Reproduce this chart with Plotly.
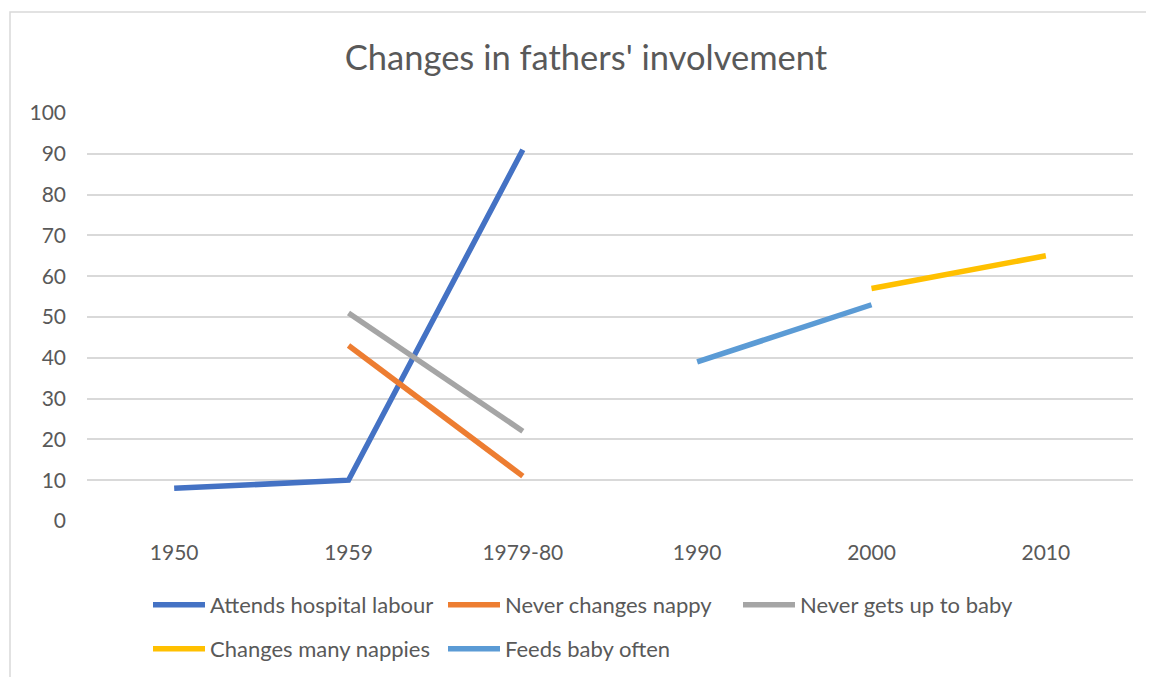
import plotly.graph_objects as go

categories = ["1950", "1959", "1979-80", "1990", "2000", "2010"]
attends_hospital = [8, 10, 91, None, None, None]
never_changes_nappy = [None, 43, 11, None, None, None]
never_gets_up = [None, 51, 22, None, None, None]
changes_many = [None, None, None, None, 57, 65]
feeds_baby = [None, None, None, 39, 53, None]

series = [
    ("Attends hospital labour", attends_hospital, "#4472C4", "legend"),
    ("Never changes nappy", never_changes_nappy, "#ED7D31", "legend"),
    ("Never gets up to baby", never_gets_up, "#A5A5A5", "legend"),
    ("Changes many nappies", changes_many, "#FFC000", "legend2"),
    ("Feeds baby often", feeds_baby, "#5B9BD5", "legend2"),
]

FONT = "Lato"
TXT = "#595959"
W, H = 1154, 677

fig = go.Figure()
for name, vals, col, lg in series:
    fig.add_trace(go.Scatter(
        x=categories, y=vals, name=name, mode="lines",
        line=dict(color=col, width=5.5, shape="linear"),
        connectgaps=False, legend=lg,
    ))

# page body has an 8px offset; positions below are in figure coordinates
L, R, T, B = 79, 29, 105, 164
PW, PH = W - L - R, H - T - B
leg_common = dict(orientation="h", xref="container", yref="container",
                  xanchor="left", yanchor="middle",
                  entrywidth=228, entrywidthmode="pixels",
                  font=dict(size=22, color=TXT), itemwidth=52,
                  bgcolor="rgba(0,0,0,0)")
fig.update_layout(
    width=W, height=H,
    margin=dict(l=L, r=R, t=T, b=B, autoexpand=False),
    paper_bgcolor="white", plot_bgcolor="white",
    font=dict(family=FONT, color=TXT, size=21),
    title=dict(text="Changes in fathers' involvement", x=578 / W, xanchor="center",
               xref="container",
               y=1 - 50 / H, yanchor="middle",
               font=dict(family=FONT, size=34.5, color=TXT)),
    xaxis=dict(type="category", range=[-0.5, 5.5], showgrid=False,
               showline=False, ticks="", tickfont=dict(size=21, color=TXT),
               ticklabelstandoff=17),
    yaxis=dict(range=[0, 100], dtick=10, showgrid=True, gridcolor="#D9D9D9",
               gridwidth=1.5, zeroline=False, showline=False, ticks="",
               tickfont=dict(size=21, color=TXT), ticklabelstandoff=20),
    legend=dict(leg_common, x=140 / W, y=1 - 597 / H),
    legend2=dict(leg_common, x=140 / W, y=1 - 641 / H),
    showlegend=True,
    shapes=[dict(type="rect", xref="paper", yref="paper",
                 x0=(2 - L) / PW, x1=(1165 - L) / PW,
                 y0=-0.5, y1=(H - B - 4) / PH,
                 line=dict(color="#D9D9D9", width=1.5), layer="below")],
)

fig.write_html("out.html")
